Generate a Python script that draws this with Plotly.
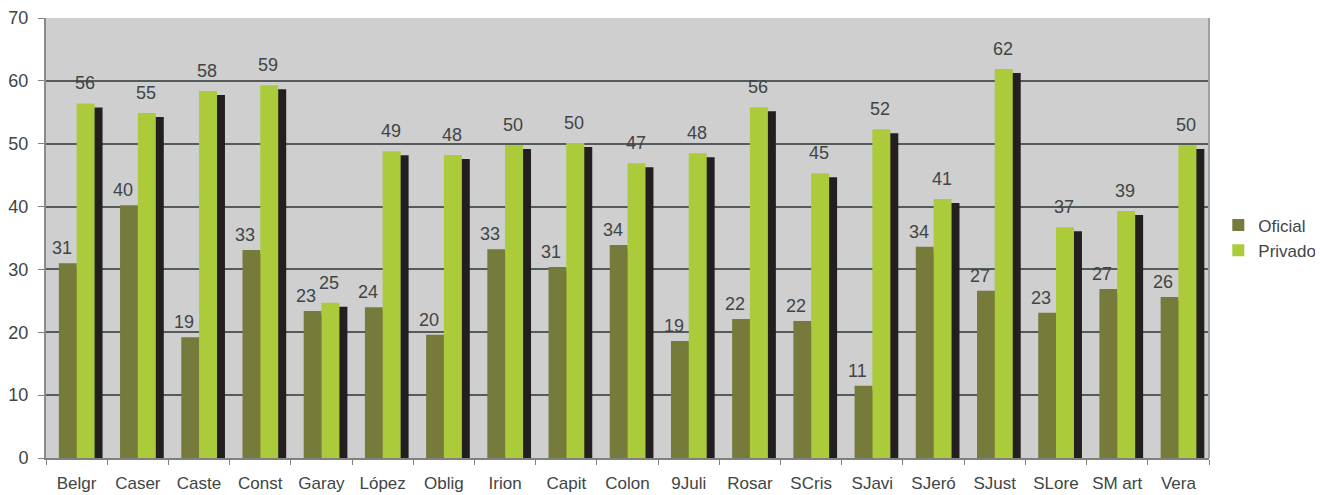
import plotly.graph_objects as go

categories = ["Belgr", "Caser", "Caste", "Const", "Garay", "López", "Oblig", "Irion", "Capit", "Colon",
              "9Juli", "Rosar", "SCris", "SJavi", "SJeró", "SJust", "SLore", "SM art", "Vera"]
oficial = [31.0, 40.2, 19.2, 33.1, 23.4, 24.0, 19.6, 33.2, 30.4, 33.9,
           18.6, 22.1, 21.8, 11.5, 33.6, 26.6, 23.1, 26.9, 25.6]
privado = [56.4, 54.9, 58.4, 59.3, 24.7, 48.8, 48.2, 49.8, 50.1, 46.9,
           48.5, 55.8, 45.3, 52.3, 41.2, 61.9, 36.7, 39.3, 49.8]
oficial_labels = ["31", "40", "19", "33", "23", "24", "20", "33", "31", "34",
                  "19", "22", "22", "11", "34", "27", "23", "27", "26"]
privado_labels = ["56", "55", "58", "59", "25", "49", "48", "50", "50", "47",
                  "48", "56", "45", "52", "41", "62", "37", "39", "50"]

C_OF = "#767A3B"
C_PR = "#ABCB3B"
C_SH = "#231F20"
FONT = "Liberation Sans, Arial, sans-serif"
TXT = "#404545"

W = 0.294
shadow_dy = 0.64   # 3D depth effect (in data units)
shadow_base = -0.5

fig = go.Figure()
# 3D depth shadows
fig.add_trace(go.Bar(x=categories, y=[v - shadow_dy - shadow_base for v in oficial], base=shadow_base,
                     offset=-0.29 + 0.07, width=W, marker=dict(color=C_SH, line_width=0),
                     showlegend=False, hoverinfo="skip", cliponaxis=False))
fig.add_trace(go.Bar(x=categories, y=[v - shadow_dy - shadow_base for v in privado], base=shadow_base,
                     offset=0.13, width=W, marker=dict(color=C_SH, line_width=0),
                     showlegend=False, hoverinfo="skip", cliponaxis=False))
fig.add_trace(go.Bar(x=categories, y=oficial, name="Oficial", offset=-0.29, width=W,
                     marker=dict(color=C_OF, line_width=0)))
fig.add_trace(go.Bar(x=categories, y=privado, name="Privado", offset=0.0, width=W,
                     marker=dict(color=C_PR, line_width=0)))

annotations = []
for c, v, t in zip(categories, oficial, oficial_labels):
    annotations.append(dict(x=c, y=v, text=t, showarrow=False, xshift=-15, yshift=15,
                            yanchor="middle", font=dict(family=FONT, size=18, color=TXT)))
for c, v, t in zip(categories, privado, privado_labels):
    annotations.append(dict(x=c, y=v, text=t, showarrow=False, xshift=8, yshift=20,
                            yanchor="middle", font=dict(family=FONT, size=18, color=TXT)))

# page body has an 8px margin: figure is sized so the plot area lands where the reference has it
fig.update_layout(
    width=1315, height=487,
    margin=dict(l=38, r=114, t=10, b=37, autoexpand=False),
    paper_bgcolor="white",
    plot_bgcolor="#CFCFCF",
    barmode="overlay",
    font=dict(family=FONT, size=18, color=TXT),
    annotations=annotations,
    legend=dict(x=1.008, y=0.5, xanchor="left", yanchor="middle",
                font=dict(family=FONT, size=17, color=TXT),
                bgcolor="rgba(0,0,0,0)", itemwidth=30, tracegroupgap=4),
    showlegend=True,
)
fig.update_xaxes(
    type="category", tickson="boundaries", ticks="outside", ticklen=5, tickcolor="#808080",
    showline=True, linecolor="#808080", linewidth=2, mirror=False, tickangle=0,
    showgrid=False, range=[-0.5, len(categories) - 0.5],
    tickfont=dict(family=FONT, size=17, color=TXT), ticklabelstandoff=9,
)
fig.update_yaxes(
    range=[0, 70], dtick=10, ticks="outside", ticklen=6, tickcolor="#808080",
    showline=True, linecolor="#8A8A8A", linewidth=2,
    showgrid=True, gridcolor="#555A5A", gridwidth=1.5, zeroline=False,
    tickfont=dict(family=FONT, size=18, color=TXT), ticklabelstandoff=6,
)
# right wall border
fig.add_shape(type="line", xref="paper", yref="paper", x0=1, x1=1, y0=0, y1=1,
              line=dict(color="#A0A0A0", width=2))

fig.write_html("out.html")
